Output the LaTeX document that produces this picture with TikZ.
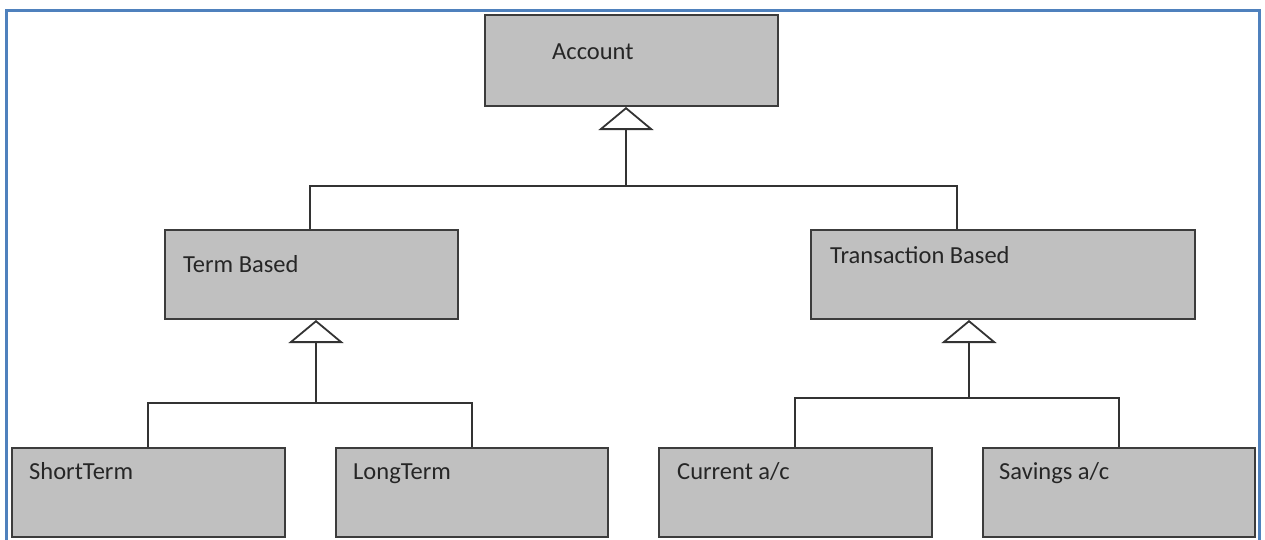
\documentclass[tikz,border=0pt]{standalone}
\usepackage{fontspec}
\setmainfont{Carlito}
\usetikzlibrary{arrows.meta}
\definecolor{boxfill}{HTML}{C0C0C0}
\definecolor{boxline}{HTML}{3C3C3C}
\definecolor{wire}{HTML}{333333}
\definecolor{frameblue}{HTML}{4F81BD}
\definecolor{labelc}{HTML}{262626}
\tikzset{
  classbox/.style={draw=boxline, fill=boxfill, line width=2pt, inner sep=0pt},
  classname/.style={anchor=base west, inner sep=0pt, text=labelc,
    font=\fontsize{24.5}{28}\selectfont},
  wireline/.style={draw=wire, line width=1.8pt},
  inherit/.style={wireline, -{Triangle[open, width=55pt, length=23pt, fill=white]}},
}
\begin{document}
\begin{tikzpicture}[x=1pt, y=-1pt]
  \useasboundingbox (0,0) rectangle (1265,539);
  \clip (0,0) rectangle (1265,539);

  % page frame
  \draw[frameblue, line width=3pt] (6,560) -- (6,10) -- (1259,10) -- (1259,560);

  % class boxes
  \node[classbox, minimum width=293, minimum height=91] (account) at (631.5,60.5) {};
  \node[classbox, minimum width=293, minimum height=89] (term)    at (311.5,274.5) {};
  \node[classbox, minimum width=384, minimum height=89] (trans)   at (1003,274.5) {};
  \node[classbox, minimum width=273, minimum height=89] (short)   at (148,492.5) {};
  \node[classbox, minimum width=272, minimum height=89] (long)    at (472,492.5) {};
  \node[classbox, minimum width=273, minimum height=89] (current) at (795,492.5) {};
  \node[classbox, minimum width=272, minimum height=89] (savings) at (1119,492.5) {};

  % class names
  \node[classname] (account-t) at (552,59)  {Account};
  \node[classname] (term-t)    at (183,272) {Term Based};
  \node[classname] (trans-t)   at (830,263) {Transaction Based};
  \node[classname] (short-t)   at (29,479)  {ShortTerm};
  \node[classname] (long-t)    at (353,479) {LongTerm};
  \node[classname] (current-t) at (677,479) {Current a/c};
  \node[classname] (savings-t) at (999,479) {Savings a/c};

  % junction points of the generalisation trees
  \coordinate (jA) at (626,186);
  \coordinate (a1) at (310,186);
  \coordinate (a2) at (957,186);
  \coordinate (jB) at (316,403);
  \coordinate (jC) at (969,398);

  % Account <- Term Based / Transaction Based
  \draw[wireline] (a1 |- term.north) -- (a1) -- (a2) -- (a2 |- trans.north);
  \draw[inherit] (jA) -- (jA |- account.south);

  % Term Based <- ShortTerm / LongTerm
  \draw[wireline] (short.north) |- (jB) -| (long.north);
  \draw[inherit] (jB) -- (jB |- term.south);

  % Transaction Based <- Current a/c / Savings a/c
  \draw[wireline] (current.north) |- (jC) -| (savings.north);
  \draw[inherit] (jC) -- (jC |- trans.south);
\end{tikzpicture}
\end{document}
